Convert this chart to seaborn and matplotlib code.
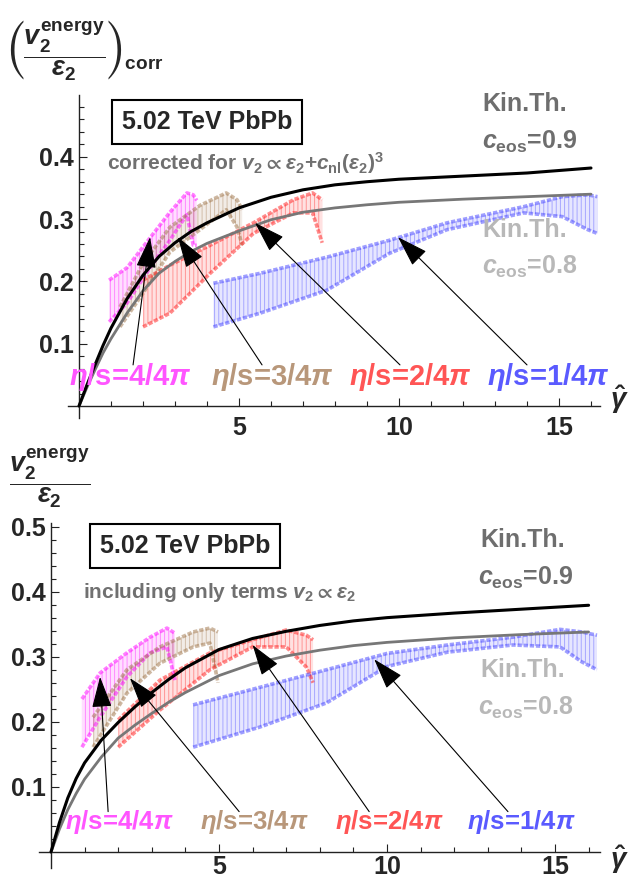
import numpy as np
import pandas as pd
import matplotlib
matplotlib.use("Agg")
import matplotlib.pyplot as plt
import seaborn as sns

# ---------------- data ----------------
curve_x = [0, 0.25, 0.5, 0.75, 1, 1.5, 2, 2.5, 3, 3.5, 4, 5, 6, 7, 8, 9, 10, 12, 14, 16]
top_ceos09 = [0, 0.034, 0.066, 0.097, 0.125, 0.172, 0.210, 0.240, 0.262, 0.280, 0.294,
              0.318, 0.335, 0.347, 0.355, 0.360, 0.364, 0.369, 0.374, 0.382]
top_ceos08 = [0, 0.030, 0.058, 0.085, 0.108, 0.149, 0.185, 0.213, 0.232, 0.248, 0.261,
              0.281, 0.299, 0.311, 0.318, 0.323, 0.327, 0.332, 0.336, 0.340]
bot_ceos09 = [0, 0.045, 0.083, 0.113, 0.137, 0.172, 0.199, 0.223, 0.245, 0.265, 0.283,
              0.311, 0.328, 0.339, 0.348, 0.355, 0.360, 0.367, 0.373, 0.379]
bot_ceos08 = [0, 0.035, 0.065, 0.090, 0.112, 0.146, 0.175, 0.195, 0.213, 0.230, 0.245,
              0.271, 0.289, 0.301, 0.310, 0.317, 0.322, 0.329, 0.334, 0.338]

# top panel bands (corrected)
top_eta4_x = [0.94, 1.5, 2.22, 2.84, 3.37, 3.57, 3.68]
top_eta4_lo = [0.135, 0.165, 0.222, 0.266, 0.307, 0.258, 0.258]
top_eta4_hi = [0.202, 0.222, 0.270, 0.311, 0.342, 0.339, 0.330]
top_eta3_x = [1.28, 2.0, 2.84, 3.78, 4.6, 4.94, 5.1]
top_eta3_lo = [0.127, 0.181, 0.247, 0.283, 0.315, 0.287, 0.258]
top_eta3_hi = [0.159, 0.229, 0.287, 0.322, 0.342, 0.331, 0.315]
top_eta2_x = [2.0, 2.84, 4.1, 5.45, 6.7, 7.3, 7.6]
top_eta2_lo = [0.127, 0.149, 0.213, 0.277, 0.310, 0.310, 0.262]
top_eta2_hi = [0.202, 0.226, 0.258, 0.294, 0.331, 0.342, 0.331]
top_eta1_x = [4.2, 5.66, 7.75, 9.7, 11.5, 13.9, 15.1, 15.9, 16.2]
top_eta1_lo = [0.127, 0.149, 0.186, 0.245, 0.283, 0.310, 0.304, 0.283, 0.277]
top_eta1_hi = [0.197, 0.213, 0.239, 0.266, 0.294, 0.320, 0.336, 0.339, 0.336]

# bottom panel bands (only linear terms)
bot_eta4_x = [0.92, 1.46, 2.26, 2.95, 3.45, 3.69]
bot_eta4_lo = [0.161, 0.207, 0.269, 0.306, 0.315, 0.264]
bot_eta4_hi = [0.235, 0.275, 0.306, 0.330, 0.344, 0.336]
bot_eta3_x = [1.25, 2.26, 3.24, 4.23, 4.73, 4.97]
bot_eta3_lo = [0.161, 0.244, 0.290, 0.315, 0.321, 0.260]
bot_eta3_hi = [0.207, 0.280, 0.315, 0.338, 0.344, 0.338]
bot_eta2_x = [2.0, 3.24, 4.73, 6.0, 7.0, 7.6, 7.8]
bot_eta2_lo = [0.161, 0.218, 0.280, 0.315, 0.315, 0.284, 0.260]
bot_eta2_hi = [0.203, 0.264, 0.306, 0.326, 0.341, 0.333, 0.326]
bot_eta1_x = [4.23, 6.22, 8.2, 10.0, 11.8, 13.75, 15.15, 15.8, 16.25]
bot_eta1_lo = [0.161, 0.192, 0.229, 0.285, 0.307, 0.318, 0.315, 0.292, 0.280]
bot_eta1_hi = [0.226, 0.253, 0.280, 0.305, 0.318, 0.330, 0.342, 0.338, 0.333]

eta_labels = [r"$\eta$/s=4/4$\pi$", r"$\eta$/s=3/4$\pi$", r"$\eta$/s=2/4$\pi$", r"$\eta$/s=1/4$\pi$"]
top_label_x = [1.6, 6.03, 10.34, 14.66]
bot_label_x = [2.02, 6.04, 10.06, 14.0]
top_arrow_tip = [(2.22, 0.271), (3.09, 0.271), (5.5, 0.294), (9.97, 0.271)]
top_arrow_tail = [(1.69, 0.066), (5.72, 0.066), (10.03, 0.066), (14.0, 0.066)]
bot_arrow_tip = [(1.46, 0.269), (2.35, 0.267), (6.0, 0.318), (9.62, 0.296)]
bot_arrow_tail = [(1.70, 0.062), (5.6, 0.062), (9.47, 0.062), (13.6, 0.062)]

band_colors = [(1.0, 0.0, 1.0), (0.62, 0.45, 0.28), (1.0, 0.1, 0.1), (0.25, 0.25, 1.0)]
label_colors = ["#FF55FF", "#B8977A", "#FF5555", "#5A5AFF"]

# ---------------- style ----------------
sns.set_theme(style="white")
plt.rcParams["font.family"] = ["Liberation Sans", "DejaVu Sans"]
plt.rcParams["font.weight"] = "bold"
plt.rcParams["mathtext.fontset"] = "custom"
plt.rcParams["mathtext.rm"] = "Liberation Sans:bold"
plt.rcParams["mathtext.it"] = "Liberation Sans:italic:bold"
plt.rcParams["mathtext.bf"] = "Liberation Sans:bold"
plt.rcParams["mathtext.fallback"] = "stixsans"
plt.rcParams["hatch.linewidth"] = 0.7

W, H = 630, 883
fig = plt.figure(figsize=(W / 100, H / 100), dpi=100)


def make_axes(x0, sx, xlim, y0, sy, ylim):
    left = (x0 + xlim[0] * sx) / W
    width = (xlim[1] - xlim[0]) * sx / W
    pix_bottom = y0 - ylim[0] * sy
    bottom = (H - pix_bottom) / H
    height = (ylim[1] - ylim[0]) * sy / H
    ax = fig.add_axes([left, bottom, width, height])
    ax.set_xlim(*xlim)
    ax.set_ylim(*ylim)
    return ax


def fx(px):
    return px / W


def fy(py):
    return 1 - py / H


def style_axes(ax, yticks, xpad):
    ax.set_facecolor("none")
    for s in ["top", "right"]:
        ax.spines[s].set_visible(False)
    for s in ["left", "bottom"]:
        ax.spines[s].set_position(("data", 0))
        ax.spines[s].set_color("#222222")
        ax.spines[s].set_linewidth(1.0)
    ax.set_xticks([5, 10, 15])
    ax.set_xticks(np.arange(1, 17), minor=True)
    ax.set_yticks(yticks)
    ax.set_yticks(np.arange(0.02, 0.5, 0.02), minor=True)
    ax.set_yticklabels([f"{v:.1f}" for v in yticks])
    ax.tick_params(which="both", direction="in", color="#222222", width=0.8,
                   labelsize=18, bottom=True, left=True)
    ax.tick_params(which="major", length=6)
    ax.tick_params(which="minor", length=3.5)
    ax.tick_params(axis="x", pad=xpad)
    ax.tick_params(axis="y", pad=4)
    for t in ax.get_xticklabels() + ax.get_yticklabels():
        t.set_fontweight("bold")
    ax.set_xlabel("")
    ax.set_ylabel("")


def draw_band(ax, x, lo, hi, rgb):
    ax.fill_between(x, lo, hi, facecolor=rgb + (0.13,), edgecolor=rgb + (0.38,),
                    hatch="||||", linewidth=0, zorder=2)
    ax.plot(x, hi, color=rgb + (0.5,), lw=2.6, ls=(0, (1.2, 0.5)), zorder=2.5)
    ax.plot(x, lo, color=rgb + (0.5,), lw=2.6, ls=(0, (1.2, 0.5)), zorder=2.5)


def draw_panel(ax, c09, c08, bands, label_x, label_y, label_size, tips, tails):
    for (bx, blo, bhi), rgb in zip(bands, band_colors):
        draw_band(ax, bx, blo, bhi, rgb)
    df = pd.DataFrame({"x": curve_x, "c09": c09, "c08": c08})
    sns.lineplot(data=df, x="x", y="c08", ax=ax, color="#777777", lw=2.0, zorder=4)
    sns.lineplot(data=df, x="x", y="c09", ax=ax, color="black", lw=2.2, zorder=4)
    for lab, lx, col in zip(eta_labels, label_x, label_colors):
        ax.text(lx, label_y, lab, color=col, fontsize=label_size, fontweight="bold",
                ha="center", va="center", zorder=6)
    for tip, tail in zip(tips, tails):
        ax.annotate("", xy=tip, xytext=tail, zorder=7,
                    arrowprops=dict(arrowstyle="-|>,head_length=1.4,head_width=0.45",
                                    mutation_scale=14, color="black", lw=0.8,
                                    shrinkA=0, shrinkB=0))


# ---------------- top panel ----------------
ax1 = make_axes(79, 32, (-0.34, 16.28), 406, 623, (-0.019, 0.499))
draw_panel(ax1, top_ceos09, top_ceos08,
           [(top_eta4_x, top_eta4_lo, top_eta4_hi), (top_eta3_x, top_eta3_lo, top_eta3_hi),
            (top_eta2_x, top_eta2_lo, top_eta2_hi), (top_eta1_x, top_eta1_lo, top_eta1_hi)],
           top_label_x, 0.046, 21, top_arrow_tip, top_arrow_tail)
style_axes(ax1, [0.1, 0.2, 0.3, 0.4], 7)

# ---------------- bottom panel ----------------
ax2 = make_axes(51, 33.6, (-0.36, 16.34), 852, 651, (-0.025, 0.505))
draw_panel(ax2, bot_ceos09, bot_ceos08,
           [(bot_eta4_x, bot_eta4_lo, bot_eta4_hi), (bot_eta3_x, bot_eta3_lo, bot_eta3_hi),
            (bot_eta2_x, bot_eta2_lo, bot_eta2_hi), (bot_eta1_x, bot_eta1_lo, bot_eta1_hi)],
           bot_label_x, 0.046, 18.5, bot_arrow_tip, bot_arrow_tail)
style_axes(ax2, [0.1, 0.2, 0.3, 0.4, 0.5], 2.5)

# ---------------- texts ----------------
box = dict(boxstyle="square,pad=0.4", fc="white", ec="black", lw=1.5)
fig.text(fx(207), fy(122), "5.02 TeV PbPb", fontsize=18, fontweight="bold",
         ha="center", va="center", bbox=box, zorder=10)
fig.text(fx(185), fy(546), "5.02 TeV PbPb", fontsize=18, fontweight="bold",
         ha="center", va="center", bbox=box, zorder=10)

fig.text(fx(107), fy(163), r"corrected for $v_2 \propto \epsilon_2$+$c_{\rm nl}(\epsilon_2)^3$",
         fontsize=15, color="#707070", ha="left", va="center")
fig.text(fx(83), fy(592), r"including only terms $v_2 \propto \epsilon_2$",
         fontsize=15, color="#707070", ha="left", va="center")

dark = "#6E6E6E"
light = "#B8B8B8"
fig.text(fx(482), fy(104), "Kin.Th.", fontsize=18, color=dark, ha="left", va="center")
fig.text(fx(482), fy(142), r"$c_{\rm eos}$=0.9", fontsize=18, color=dark, ha="left", va="center")
fig.text(fx(482), fy(230), "Kin.Th.", fontsize=18, color=light, ha="left", va="center")
fig.text(fx(482), fy(267), r"$c_{\rm eos}$=0.8", fontsize=18, color=light, ha="left", va="center")
fig.text(fx(480), fy(540), "Kin.Th.", fontsize=18, color=dark, ha="left", va="center")
fig.text(fx(478), fy(578), r"$c_{\rm eos}$=0.9", fontsize=18, color=dark, ha="left", va="center")
fig.text(fx(480), fy(670), "Kin.Th.", fontsize=18, color=light, ha="left", va="center")
fig.text(fx(478), fy(708), r"$c_{\rm eos}$=0.8", fontsize=18, color=light, ha="left", va="center")

fig.text(fx(6), fy(50), r"$\left(\dfrac{v_2^{\rm energy}}{\epsilon_2}\right)_{\rm corr}$",
         fontsize=19.5, ha="left", va="center")
fig.text(fx(9), fy(478), r"$\dfrac{v_2^{\rm energy}}{\epsilon_2}$",
         fontsize=19.5, ha="left", va="center")

fig.text(fx(619), fy(400), r"$\hat{\gamma}$", fontsize=20, ha="center", va="center")
fig.text(fx(619), fy(860), r"$\hat{\gamma}$", fontsize=20, ha="center", va="center")

fig.savefig("out.png", dpi=100)
